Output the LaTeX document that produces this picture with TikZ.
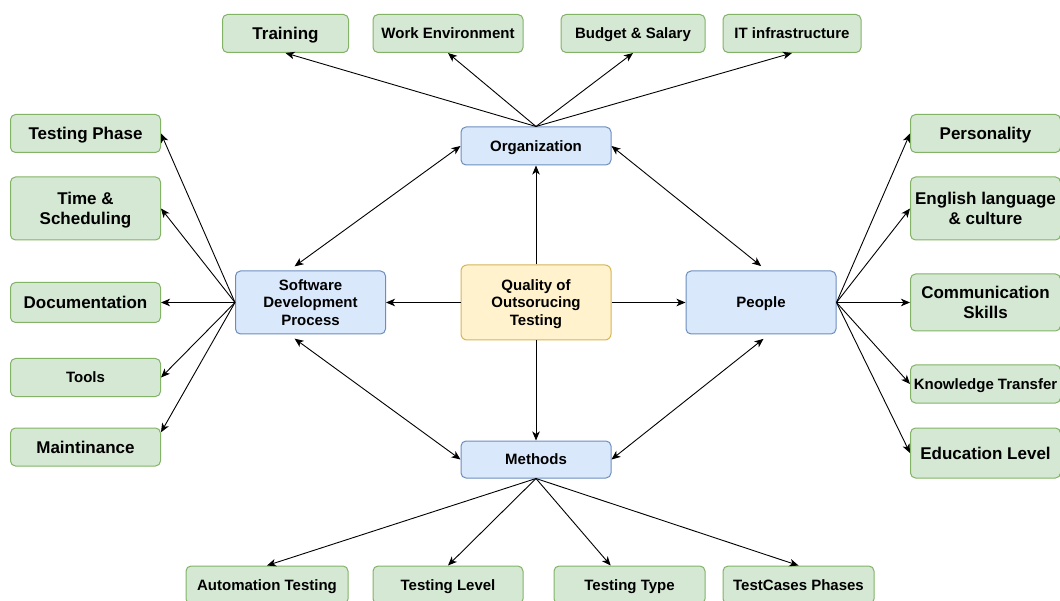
\documentclass[tikz,border=0pt]{standalone}
\usepackage{fontspec}
\setmainfont{Liberation Sans}
\usepackage{xcolor}
\usetikzlibrary{arrows.meta, positioning, calc}
\definecolor{leaffill}{HTML}{D5E8D4}
\definecolor{leafline}{HTML}{82B366}
\definecolor{hubfill}{HTML}{DAE8FC}
\definecolor{hubline}{HTML}{6C8EBF}
\definecolor{corefill}{HTML}{FFF2CC}
\definecolor{coreline}{HTML}{D6B656}
\newcommand{\bigtxt}{\fontsize{17}{19.5}\selectfont\bfseries}
\newcommand{\midtxt}{\fontsize{15}{17.5}\selectfont\bfseries}
\tikzstyle{leaf} = [rectangle, rounded corners=5pt, draw=leafline, fill=leaffill, line width=1pt, minimum width=150pt, minimum height=38pt, inner sep=0pt, text depth=0pt, align=center, font=\midtxt]
\tikzstyle{hub} = [rectangle, rounded corners=5pt, draw=hubline, fill=hubfill, line width=1pt, minimum width=150pt, minimum height=38pt, inner sep=0pt, text depth=0pt, align=center, font=\midtxt]
\tikzstyle{core} = [rectangle, rounded corners=6pt, draw=coreline, fill=corefill, line width=1pt, minimum width=150pt, minimum height=75pt, inner sep=0pt, text depth=0pt, align=center, font=\midtxt]
\tikzstyle{arrow} = [line width=0.9pt, -{Stealth[length=9pt,width=7.5pt,inset=2.5pt]}]
\tikzstyle{biarrow} = [line width=0.9pt, {Stealth[length=9pt,width=7.5pt,inset=2.5pt]}-{Stealth[length=9pt,width=7.5pt,inset=2.5pt]}]

\begin{document}
\begin{tikzpicture}[x=1pt, y=-1pt]
        \useasboundingbox (0,0) rectangle (1060,601);
        % centre and the four groups
        \node[core] (quality) at (536,302.5) {Quality of\\Outsorucing\\Testing};
        \node[hub] (org) at (536,146) {Organization};
        \node[hub, minimum height=63pt] (sdp) at (310.5,302.5) {Software\\Development\\Process};
        \node[hub, minimum height=63pt] (people) at (761,302.5) {People};
        \node[hub, minimum height=37pt] (methods) at (536,459.5) {Methods};

        % organization factors
        \node[leaf, minimum width=126pt, font=\bigtxt] (train) at (285.5,33.5) {Training};
        \node[leaf] (workenv) at (448,33.5) {Work Environment};
        \node[leaf, minimum width=144pt] (budget) at (633,33.5) {Budget \& Salary};
        \node[leaf, minimum width=138pt] (itinfra) at (792,33.5) {IT infrastructure};

        % process factors
        \node[leaf, font=\bigtxt] (tphase) at (85.5,133.5) {Testing Phase};
        \node[leaf, minimum height=63pt, font=\bigtxt] (timesch) at (85.5,208.5) {Time \&\\Scheduling};
        \node[leaf, minimum height=40pt, font=\bigtxt] (docs) at (85.5,302.5) {Documentation};
        \node[leaf] (tools) at (85.5,377.5) {Tools};
        \node[leaf, font=\bigtxt] (maint) at (85.5,447) {Maintinance};

        % people factors
        \node[leaf, font=\bigtxt] (person) at (985.5,133.5) {Personality};
        \node[leaf, minimum height=63pt, font=\bigtxt] (english) at (985.5,208.5) {English language\\\& culture};
        \node[leaf, minimum height=57pt, font=\bigtxt] (comm) at (985.5,302.5) {Communication\\Skills};
        \node[leaf] (knowtr) at (985.5,384) {Knowledge Transfer};
        \node[leaf, minimum height=50pt, font=\bigtxt] (edu) at (985.5,453) {Education Level};

        % method factors
        \node[leaf, minimum width=162pt] (autotest) at (267,585) {Automation Testing};
        \node[leaf] (tlevel) at (448,585) {Testing Level};
        \node[leaf, minimum width=151pt] (ttype) at (629.5,585) {Testing Type};
        \node[leaf, minimum width=151pt] (tcases) at (798.5,585) {TestCases Phases};

        \draw[arrow] (quality) -- (org);
        \draw[arrow] (quality) -- (sdp);
        \draw[arrow] (quality) -- (people);
        \draw[arrow] (quality) -- (methods);

        \draw[biarrow, shorten >=7pt] (org.west) -- (sdp.124);
        \draw[biarrow, shorten >=7pt] (org.east) -- (people.80);
        \draw[biarrow, shorten <=7pt] (sdp.236) -- (methods.west);
        \draw[biarrow, shorten <=7pt] (people.284) -- (methods.east);

        \draw[arrow] (org.north) -- (train.south);
        \draw[arrow] (org.north) -- (workenv.south);
        \draw[arrow] (org.north) -- (budget.south);
        \draw[arrow] (org.north) -- (itinfra.south);

        \draw[arrow] (sdp.west) -- (tphase.east);
        \draw[arrow] (sdp.west) -- (timesch.east);
        \draw[arrow] (sdp.west) -- (docs.east);
        \draw[arrow] (sdp.west) -- (tools.east);
        \draw[arrow] (sdp.west) -- (maint.11);

        \draw[arrow] (people.east) -- (person.west);
        \draw[arrow] (people.east) -- (english.west);
        \draw[arrow] (people.east) -- (comm.west);
        \draw[arrow] (people.east) -- (knowtr.west);
        \draw[arrow] (people.east) -- (edu.west);

        \draw[arrow] (methods.south) -- (autotest.north);
        \draw[arrow] (methods.south) -- (tlevel.north);
        \draw[arrow] (methods.south) -- (ttype.134);
        \draw[arrow] (methods.south) -- (tcases.north);
    \end{tikzpicture}
\end{document}
